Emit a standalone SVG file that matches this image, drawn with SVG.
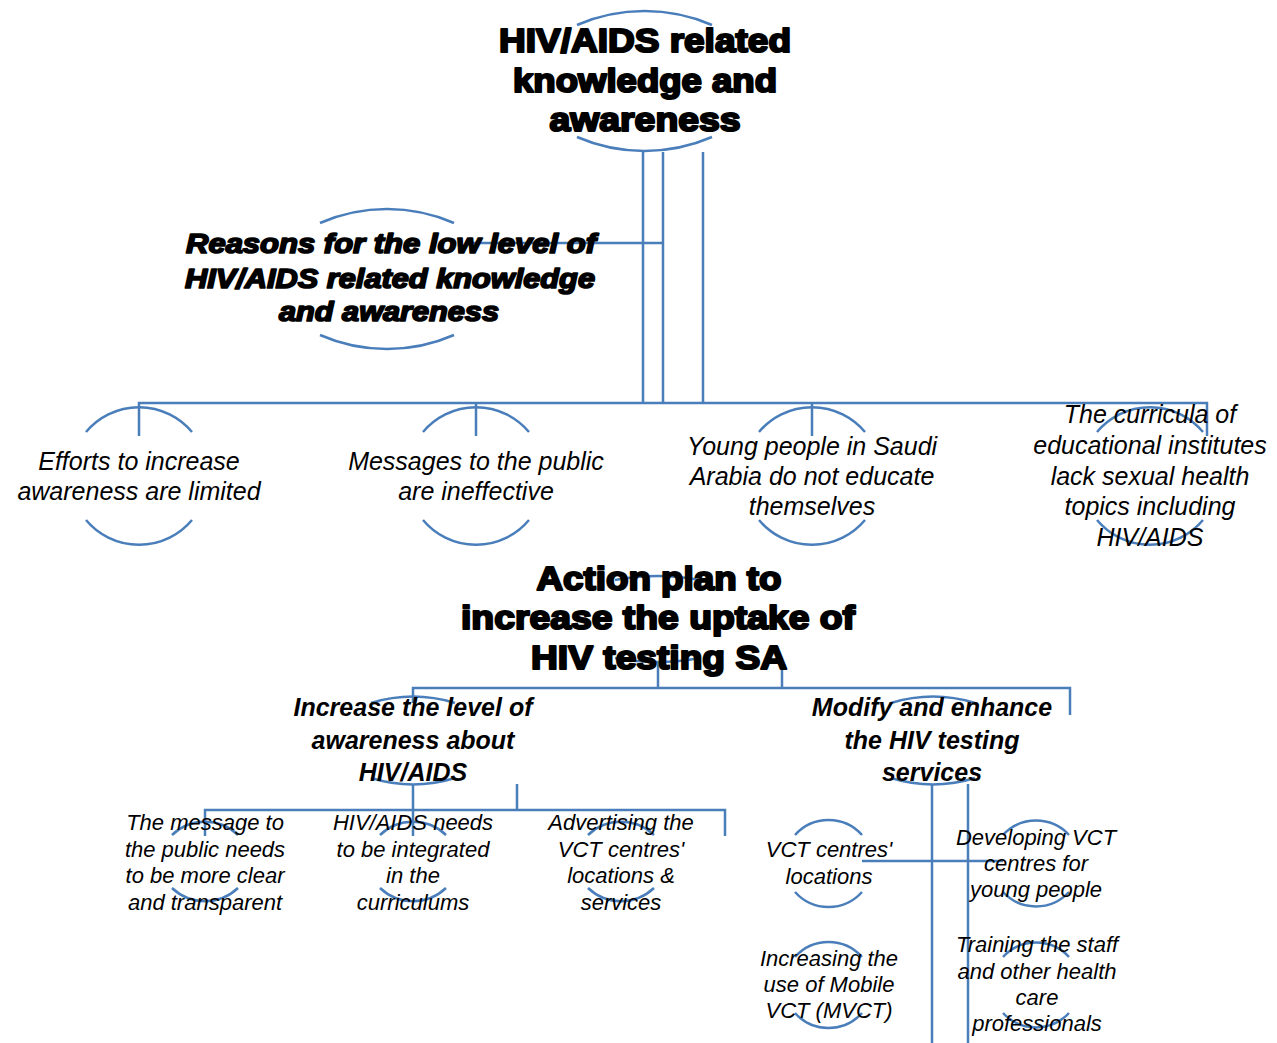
<svg xmlns="http://www.w3.org/2000/svg" width="1277" height="1043" viewBox="0 0 1277 1043">
<style>
.ln{fill:none;stroke:#4a7ebb;stroke-width:2.5}
.arc{fill:none;stroke:#4a7ebb;stroke-width:2.5}
.h{font-family:"Liberation Sans",Arial,sans-serif;font-weight:700;font-size:34px;fill:#000;stroke:#000;stroke-width:2.2;stroke-linejoin:round;text-anchor:middle}
.hi{font-family:"Liberation Sans",Arial,sans-serif;font-weight:700;font-style:italic;font-size:27px;fill:#000;stroke:#000;stroke-width:1.7;stroke-linejoin:round;text-anchor:middle}
.n{font-family:"Liberation Sans",Arial,sans-serif;font-style:italic;font-size:25px;fill:#000;text-anchor:middle}
.b{font-family:"Liberation Sans",Arial,sans-serif;font-style:italic;font-weight:700;font-size:25px;fill:#000;text-anchor:middle}
.s{font-family:"Liberation Sans",Arial,sans-serif;font-style:italic;font-size:22px;fill:#000;text-anchor:middle}
</style>
<rect width="1277" height="1043" fill="#fff"/>
<g id="connectors">
<path class="ln" d="M643,152V403M663,152V403M703,152V403"/>
<path class="ln" d="M470,243H663"/>
<path class="ln" d="M139,436V403H1207V436M476,403V436M812,403V436"/>
<path class="ln" d="M658,661V688M782,661V688M413,703V688H1070V715"/>
<path class="ln" d="M413,784V836M517,784V810M205,836V810H725V836"/>
<path class="ln" d="M932,784V1043M968,784V1043M862,861H1003"/>
</g>
<g id="node-top">
<path class="arc" d="M577,25A170,170 0 0 1 712,25M577,137A170,170 0 0 0 712,137"/>
<text class="h" x="645" y="52" textLength="292" lengthAdjust="spacingAndGlyphs">HIV/AIDS related</text>
<text class="h" x="645" y="92" textLength="264" lengthAdjust="spacingAndGlyphs">knowledge and</text>
<text class="h" x="645" y="131" textLength="191" lengthAdjust="spacingAndGlyphs">awareness</text>
</g>
<g id="node-reasons">
<path class="arc" d="M320,223A167,167 0 0 1 454,223M320,335A167,167 0 0 0 454,335"/>
<text class="hi" x="391" y="253" textLength="410" lengthAdjust="spacingAndGlyphs">Reasons for the low level of</text>
<text class="hi" x="390" y="288" textLength="410" lengthAdjust="spacingAndGlyphs">HIV/AIDS related knowledge</text>
<text class="hi" x="389" y="321" textLength="220" lengthAdjust="spacingAndGlyphs">and awareness</text>
</g>
<g id="node-efforts">
<path class="arc" d="M86,432A69,69 0 0 1 192,432M86,520A69,69 0 0 0 192,520"/>
<text class="n" x="139" y="470">Efforts to increase</text>
<text class="n" x="139" y="500">awareness are limited</text>
</g>
<g id="node-messages">
<path class="arc" d="M423,432A69,69 0 0 1 529,432M423,520A69,69 0 0 0 529,520"/>
<text class="n" x="476" y="470">Messages to the public</text>
<text class="n" x="476" y="500">are ineffective</text>
</g>
<g id="node-young">
<path class="arc" d="M759,432A69,69 0 0 1 865,432M759,520A69,69 0 0 0 865,520"/>
<text class="n" x="812" y="455">Young people in Saudi</text>
<text class="n" x="812" y="485">Arabia do not educate</text>
<text class="n" x="812" y="515">themselves</text>
</g>
<g id="node-curricula">
<path class="arc" d="M1097,432A69,69 0 0 1 1203,432M1097,520A69,69 0 0 0 1203,520"/>
<text class="n" x="1150" y="423">The curricula of</text>
<text class="n" x="1150" y="454">educational institutes</text>
<text class="n" x="1150" y="485">lack sexual health</text>
<text class="n" x="1150" y="515">topics including</text>
<text class="n" x="1150" y="546">HIV/AIDS</text>
</g>
<g id="node-action">
<path class="arc" d="M615,580A228,228 0 0 1 700,580M615,658A228,228 0 0 0 700,658"/>
<text class="h" x="659" y="590" textLength="245" lengthAdjust="spacingAndGlyphs">Action plan to</text>
<text class="h" x="658" y="629" textLength="394" lengthAdjust="spacingAndGlyphs">increase the uptake of</text>
<text class="h" x="659" y="669" textLength="256" lengthAdjust="spacingAndGlyphs">HIV testing SA</text>
</g>
<g id="node-increase">
<path class="arc" d="M371,703A143,143 0 0 1 455,703M371,778A143,143 0 0 0 455,778"/>
<text class="b" x="413" y="716">Increase the level of</text>
<text class="b" x="413" y="749">awareness about</text>
<text class="b" x="413" y="781">HIV/AIDS</text>
</g>
<g id="node-modify">
<path class="arc" d="M891,703A143,143 0 0 1 975,703M891,778A143,143 0 0 0 975,778"/>
<text class="b" x="932" y="716">Modify and enhance</text>
<text class="b" x="932" y="749">the HIV testing</text>
<text class="b" x="932" y="781">services</text>
</g>
<g id="node-message">
<path class="arc" d="M172,835A48,48 0 0 1 238,835M172,888A48,48 0 0 0 238,888"/>
<text class="s" x="205" y="830">The message to</text>
<text class="s" x="205" y="857">the public needs</text>
<text class="s" x="205" y="883">to be more clear</text>
<text class="s" x="205" y="910">and transparent</text>
</g>
<g id="node-integrated">
<path class="arc" d="M380,835A48,48 0 0 1 446,835M380,888A48,48 0 0 0 446,888"/>
<text class="s" x="413" y="830">HIV/AIDS needs</text>
<text class="s" x="413" y="857">to be integrated</text>
<text class="s" x="413" y="883">in the</text>
<text class="s" x="413" y="910">curriculums</text>
</g>
<g id="node-advertising">
<path class="arc" d="M588,835A48,48 0 0 1 654,835M588,888A48,48 0 0 0 654,888"/>
<text class="s" x="621" y="830">Advertising the</text>
<text class="s" x="621" y="857">VCT centres'</text>
<text class="s" x="621" y="883">locations &amp;</text>
<text class="s" x="621" y="910">services</text>
</g>
<g id="node-locations">
<path class="arc" d="M795,835A45,45 0 0 1 862,835M795,892A45,45 0 0 0 862,892"/>
<text class="s" x="829" y="857">VCT centres'</text>
<text class="s" x="829" y="884">locations</text>
</g>
<g id="node-developing">
<path class="arc" d="M1003,835A45,45 0 0 1 1069,835M1003,892A45,45 0 0 0 1069,892"/>
<text class="s" x="1036" y="845">Developing VCT</text>
<text class="s" x="1036" y="871">centres for</text>
<text class="s" x="1036" y="897">young people</text>
</g>
<g id="node-mobile">
<path class="arc" d="M795,957A45,45 0 0 1 862,957M795,1013A45,45 0 0 0 862,1013"/>
<text class="s" x="829" y="966">Increasing the</text>
<text class="s" x="829" y="992">use of Mobile</text>
<text class="s" x="829" y="1018">VCT (MVCT)</text>
</g>
<g id="node-training">
<path class="arc" d="M1003,957A45,45 0 0 1 1069,957M1003,1013A45,45 0 0 0 1069,1013"/>
<text class="s" x="1037" y="952">Training the staff</text>
<text class="s" x="1037" y="979">and other health</text>
<text class="s" x="1037" y="1005">care</text>
<text class="s" x="1037" y="1031">professionals</text>
</g>
</svg>
